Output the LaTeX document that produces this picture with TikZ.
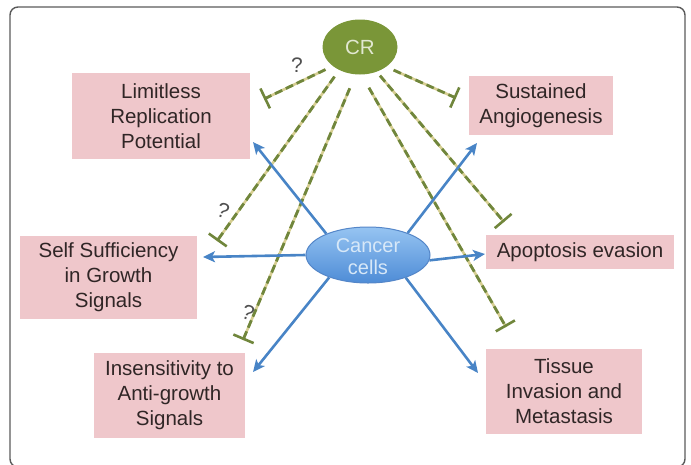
\documentclass[tikz,border=0pt]{standalone}
\usepackage{fontspec}
\setmainfont{Liberation Sans}
\usetikzlibrary{arrows.meta,shapes.geometric}
\pgfdeclarelayer{background}
\pgfsetlayers{background,main}
\definecolor{boxpink}{RGB}{239,199,203}
\definecolor{txt}{RGB}{48,38,38}
\definecolor{crgreen}{RGB}{122,150,56}
\definecolor{crtext}{RGB}{226,232,210}
\definecolor{arrblue}{RGB}{72,132,198}
\definecolor{celltop}{RGB}{150,196,242}
\definecolor{cellbot}{RGB}{78,140,214}
\definecolor{cellline}{RGB}{84,134,200}
\definecolor{celltext}{RGB}{215,232,248}
\definecolor{dashdark}{RGB}{112,134,60}
\definecolor{dashlight}{RGB}{214,206,146}
\definecolor{framegray}{RGB}{90,90,90}
\definecolor{qgray}{RGB}{80,80,80}
\begin{document}
\begin{tikzpicture}[x=1pt,y=-1pt,
  every node/.style={font=\fontsize{20.5}{25}\selectfont, text=txt},
  hallmark/.style={rectangle, fill=boxpink, inner sep=0pt, align=center},
  arr/.style={draw=arrblue, line width=2.6pt, -{Stealth[length=12pt,width=11pt,inset=3pt]}},
  inh/.style={draw=dashdark, line width=2.8pt, dash pattern=on 8pt off 4pt,
     -{Bar[width=22pt,line width=2.6pt]},
     preaction={draw=dashlight, line width=2.6pt, solid, -}},
  qmark/.style={text=qgray, font=\fontsize{21}{24}\selectfont}
]
\useasboundingbox (0,0) rectangle (691,464);
\draw[framegray, line width=1.4pt, rounded corners=8pt] (10,7) rectangle (685,467);

% hallmark boxes
\node[hallmark, minimum width=178pt, minimum height=86pt] (lim) at (161,116) {Limitless\\Replication\\Potential};
\node[hallmark, minimum width=144pt, minimum height=59pt] (sus) at (541,105.5) {Sustained\\Angiogenesis};
\node[hallmark, minimum width=177pt, minimum height=83pt] (self) at (108.5,277.5) {Self Sufficiency\\in Growth\\Signals};
\node[hallmark, minimum width=151pt, minimum height=85pt] (ins) at (169.5,395.5) {Insensitivity to\\Anti-growth\\Signals};
\node[hallmark, minimum width=188pt, minimum height=34pt] (apo) at (580,252) {Apoptosis evasion};
\node[hallmark, minimum width=156pt, minimum height=85pt] (tis) at (564,391.5) {Tissue\\Invasion and\\Metastasis};

% CR
\node[ellipse, fill=crgreen, inner sep=0pt, minimum width=75pt, minimum height=55pt, text=crtext] (cr) at (360,47) {CR};

% cancer cells
\node[ellipse, draw=cellline, line width=1pt, top color=celltop, bottom color=cellbot, inner sep=0pt, minimum width=124pt, minimum height=56pt] (cc) at (368,255) {};
\node[text=celltext, align=center, font=\fontsize{20}{22}\selectfont] (cct) at (368,257) {Cancer\\cells};

% tip coordinates
\coordinate (tlim) at (253,142);
\coordinate (tsus) at (477,143);
\coordinate (tself) at (203,257);
\coordinate (tapo) at (485,254);
\coordinate (tins) at (253,372);
\coordinate (ttis) at (478,373);

\coordinate (blim) at (264,99);
\coordinate (bsus) at (456,98);
\coordinate (bself) at (217,241);
\coordinate (bins) at (243,340);
\coordinate (bapo) at (504,222);
\coordinate (btis) at (506,327);

\begin{pgfonlayer}{background}
% inhibition lines
\draw[inh, shorten <=8pt] (cr.215) -- (blim);
\draw[inh, shorten <=8pt] (cr.323) -- (bsus);
\draw[inh, shorten <=8pt] (cr.228) -- (bself);
\draw[inh, shorten <=15pt] (cr.261) -- (bins);
\draw[inh, shorten <=5pt] (cr.304) -- (bapo);
\draw[inh, shorten <=15pt] (cr.273) -- (btis);

% blue arrows
\draw[arr] (cc.153) -- (tlim);
\draw[arr] (cc.29) -- (tsus);
\draw[arr] (cc.180) -- (tself);
\draw[arr] (cc.-5) -- (tapo);
\draw[arr] (cc.210) -- (tins);
\draw[arr] (cc.329) -- (ttis);
\end{pgfonlayer}

% question marks
\node[qmark] (q1) at (297,65) {?};
\node[qmark, rotate=-20] (q2) at (223,211) {?};
\node[qmark, rotate=-20] (q3) at (248,313) {?};
\end{tikzpicture}
\end{document}
